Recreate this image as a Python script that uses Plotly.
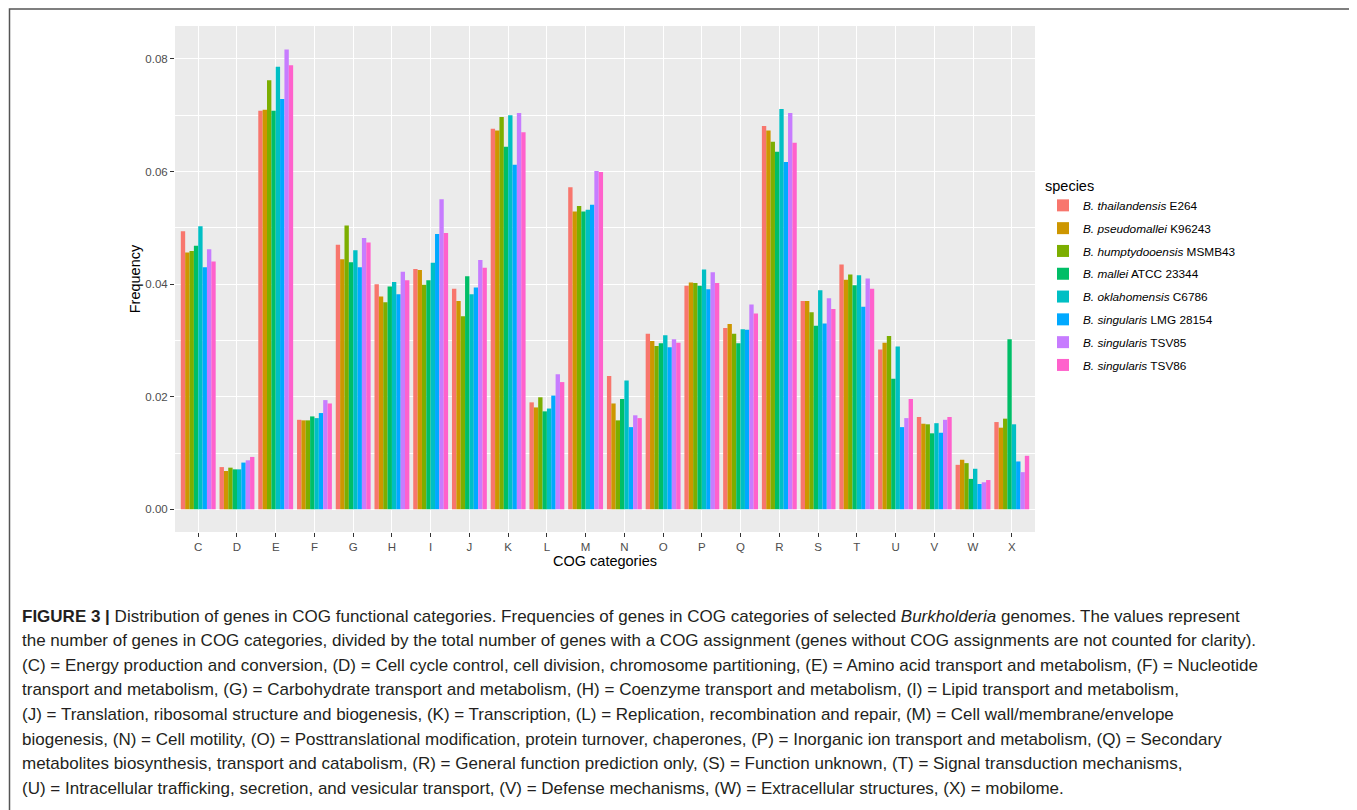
import plotly.graph_objects as go

categories = ["C", "D", "E", "F", "G", "H", "I", "J", "K", "L", "M", "N",
              "O", "P", "Q", "R", "S", "T", "U", "V", "W", "X"]

species = [
    "<i>B. thailandensis</i> E264",
    "<i>B. pseudomallei</i> K96243",
    "<i>B. humptydooensis</i> MSMB43",
    "<i>B. mallei</i> ATCC 23344",
    "<i>B. oklahomensis</i> C6786",
    "<i>B. singularis</i> LMG 28154",
    "<i>B. singularis</i> TSV85",
    "<i>B. singularis</i> TSV86",
]

colors = ["#F8766D", "#CD9600", "#7CAE00", "#00BE67",
          "#00BFC4", "#00A9FF", "#C77CFF", "#FF61CC"]

#                 C       D       E       F       G       H       I       J       K       L       M       N       O       P       Q       R       S       T       U       V       W       X
thailandensis = [0.0494, 0.0075, 0.0708, 0.0159, 0.0470, 0.0400, 0.0427, 0.0392, 0.0676, 0.0190, 0.0572, 0.0237, 0.0312, 0.0397, 0.0322, 0.0681, 0.0370, 0.0435, 0.0284, 0.0164, 0.0079, 0.0155]
pseudomallei  = [0.0456, 0.0068, 0.0710, 0.0158, 0.0444, 0.0378, 0.0425, 0.0370, 0.0673, 0.0181, 0.0529, 0.0188, 0.0299, 0.0403, 0.0329, 0.0673, 0.0370, 0.0408, 0.0296, 0.0152, 0.0088, 0.0145]
humptydooensis= [0.0459, 0.0074, 0.0762, 0.0158, 0.0504, 0.0368, 0.0399, 0.0343, 0.0697, 0.0199, 0.0539, 0.0158, 0.0290, 0.0402, 0.0312, 0.0653, 0.0350, 0.0417, 0.0308, 0.0151, 0.0082, 0.0161]
mallei        = [0.0468, 0.0071, 0.0708, 0.0165, 0.0439, 0.0396, 0.0407, 0.0414, 0.0644, 0.0174, 0.0529, 0.0196, 0.0295, 0.0397, 0.0295, 0.0635, 0.0326, 0.0398, 0.0232, 0.0135, 0.0054, 0.0302]
oklahomensis  = [0.0503, 0.0071, 0.0786, 0.0162, 0.0460, 0.0404, 0.0438, 0.0382, 0.0700, 0.0179, 0.0532, 0.0229, 0.0309, 0.0426, 0.0320, 0.0711, 0.0389, 0.0416, 0.0289, 0.0153, 0.0072, 0.0151]
singularis_lmg= [0.0430, 0.0083, 0.0729, 0.0171, 0.0430, 0.0382, 0.0489, 0.0394, 0.0612, 0.0202, 0.0541, 0.0146, 0.0288, 0.0391, 0.0319, 0.0617, 0.0330, 0.0360, 0.0146, 0.0136, 0.0045, 0.0085]
singularis_85 = [0.0462, 0.0087, 0.0817, 0.0194, 0.0482, 0.0422, 0.0551, 0.0443, 0.0704, 0.0240, 0.0601, 0.0167, 0.0302, 0.0421, 0.0364, 0.0704, 0.0375, 0.0410, 0.0162, 0.0159, 0.0048, 0.0066]
singularis_86 = [0.0440, 0.0093, 0.0789, 0.0188, 0.0474, 0.0407, 0.0491, 0.0429, 0.0670, 0.0226, 0.0599, 0.0162, 0.0296, 0.0402, 0.0348, 0.0651, 0.0356, 0.0392, 0.0196, 0.0164, 0.0052, 0.0095]

series = [thailandensis, pseudomallei, humptydooensis, mallei,
          oklahomensis, singularis_lmg, singularis_85, singularis_86]

y_ticks = [0.00, 0.02, 0.04, 0.06, 0.08]

caption_lines = [
    "<b>FIGURE 3 |</b> Distribution of genes in COG functional categories. Frequencies of genes in COG categories of selected <i>Burkholderia</i> genomes. The values represent",
    "the number of genes in COG categories, divided by the total number of genes with a COG assignment (genes without COG assignments are not counted for clarity).",
    "(C) = Energy production and conversion, (D) = Cell cycle control, cell division, chromosome partitioning, (E) = Amino acid transport and metabolism, (F) = Nucleotide",
    "transport and metabolism, (G) = Carbohydrate transport and metabolism, (H) = Coenzyme transport and metabolism, (I) = Lipid transport and metabolism,",
    "(J) = Translation, ribosomal structure and biogenesis, (K) = Transcription, (L) = Replication, recombination and repair, (M) = Cell wall/membrane/envelope",
    "biogenesis, (N) = Cell motility, (O) = Posttranslational modification, protein turnover, chaperones, (P) = Inorganic ion transport and metabolism, (Q) = Secondary",
    "metabolites biosynthesis, transport and catabolism, (R) = General function prediction only, (S) = Function unknown, (T) = Signal transduction mechanisms,",
    "(U) = Intracellular trafficking, secretion, and vesicular transport, (V) = Defense mechanisms, (W) = Extracellular structures, (X) = mobilome.",
]

# page body has an 8px margin; positions below are given in screen pixels
OFF = 8
W, H = 1357 - OFF, 810 - OFF
PL, PR, PT, PB = 175, 1035, 26, 532   # panel edges (screen pixels)
Y0PIX, PIX_PER_UNIT = 509.3, 5629.0    # y pixel of 0 and scale


def px(x):
    return (x - PL) / (PR - PL)


def py(y):
    return (PB - y) / (PB - PT)


FONT = "Liberation Sans, Arial, Helvetica, sans-serif"
CAP_FONT = "Liberation Sans, Arial, Helvetica, sans-serif"

fig = go.Figure()
for name, vals, col in zip(species, series, colors):
    fig.add_trace(go.Bar(x=categories, y=vals, name=name, legendgroup=name,
                         marker=dict(color=col, line=dict(width=0))))

fig.update_layout(
    width=W, height=H,
    margin=dict(l=PL - OFF, r=W - (PR - OFF), t=PT - OFF, b=H - (PB - OFF), pad=0),
    paper_bgcolor="white",
    plot_bgcolor="#EBEBEB",
    barmode="group", bargap=0.1, bargroupgap=0,
    font=dict(family=FONT, size=11.5, color="#4D4D4D"),
    showlegend=True,
    legend=dict(
        title=dict(text="species", font=dict(size=14.5, color="black")),
        x=px(1043), y=py(172), xanchor="left", yanchor="top",
        font=dict(size=11.8, color="black"),
        bgcolor="rgba(0,0,0,0)", tracegroupgap=3.8,
    ),
)

fig.update_xaxes(
    type="category", range=[-0.6, len(categories) - 0.4],
    showgrid=True, gridcolor="white", gridwidth=1.1,
    ticks="outside", ticklen=4, tickcolor="#333333", tickwidth=1,
    tickfont=dict(size=11.5, color="#4D4D4D"),
    title=dict(text="COG categories", font=dict(size=14.5, color="black"), standoff=1),
    showline=False, zeroline=False,
)

ymin = (Y0PIX - PB) / PIX_PER_UNIT
ymax = (Y0PIX - PT) / PIX_PER_UNIT
fig.update_yaxes(
    range=[ymin, ymax],
    tickvals=y_ticks, ticktext=["%.2f" % v for v in y_ticks],
    showgrid=True, gridcolor="white", gridwidth=1.1,
    minor=dict(dtick=0.01, tick0=0, showgrid=True, gridcolor="white", gridwidth=0.5),
    ticks="outside", ticklen=4, tickcolor="#333333", tickwidth=1,
    ticklabelstandoff=0,
    tickfont=dict(size=11.5, color="#4D4D4D"),
    title=dict(text="Frequency", font=dict(size=14.5, color="black"), standoff=1),
    showline=False, zeroline=False,
)

# caption
y0 = 616
for i, line in enumerate(caption_lines):
    fig.add_annotation(
        text=line, xref="paper", yref="paper",
        x=px(20), y=py(y0 + i * 24.6), xanchor="left", yanchor="middle",
        showarrow=False, align="left",
        font=dict(family=CAP_FONT, size=17, color="#231F20"),
    )

# outer frame (its bottom edge lies below the visible page, as in the reference)
fig.add_shape(type="rect", xref="paper", yref="paper", layer="above",
              x0=px(9.5), x1=px(1353.5), y0=py(840), y1=py(9),
              line=dict(color="#555555", width=1.5), fillcolor="rgba(0,0,0,0)")

fig.write_html("out.html")
